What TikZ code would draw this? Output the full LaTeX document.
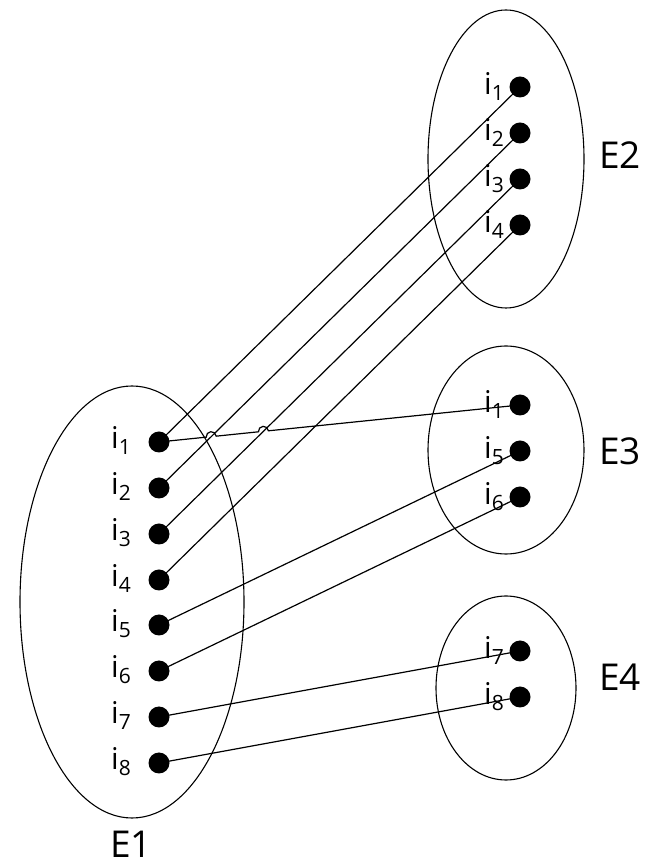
\documentclass[tikz,border=0pt]{standalone}
\usepackage{fontspec}
\setmainfont{Open Sans}
\usetikzlibrary{backgrounds,intersections,calc,shapes.geometric}
\newcommand{\itemlab}[1]{i\raisebox{-6pt}{\fontsize{21}{21}\selectfont #1}}
\begin{document}
\begin{tikzpicture}[x=1pt,y=1pt,
  dot/.style={circle,fill=black,inner sep=0pt,minimum size=21pt},
  setell/.style={draw,ellipse,line width=1.1pt,inner sep=0pt},
  lbl/.style={anchor=base east,inner sep=0pt,font=\fontsize{30}{30}\selectfont},
  setname/.style={anchor=base,font=\fontsize{37}{37}\selectfont,inner sep=0pt},
  link/.style={line width=1.2pt}]
\useasboundingbox (0,0) rectangle (669,868);

% sets
\node[setell,minimum width=224pt,minimum height=432pt] (E1) at (132,266) {};
\node[setell,minimum width=156pt,minimum height=298pt] (E2) at (506,709) {};
\node[setell,minimum width=156pt,minimum height=208pt] (E3) at (506,418) {};
\node[setell,minimum width=140pt,minimum height=184pt] (E4) at (506,180) {};

\node[setname] (n1) at (131,10) {E1};
\node[setname] (n2) at (620,699) {E2};
\node[setname] (n3) at (620,403) {E3};
\node[setname] (n4) at (620,177) {E4};

% E1 items
\foreach \k/\y in {1/426,2/380,3/334,4/288,5/243,6/197,7/151,8/105}{
  \node[dot] (a\k) at (159,\y) {};
  \node[lbl] (la\k) at (131,\y-7) {\itemlab{\k}};
}
% E2 items
\foreach \k/\y in {1/781,2/735,3/689,4/643}{
  \node[dot] (b\k) at (520,\y) {};
  \node[lbl] (lb\k) at (504,\y-8) {\itemlab{\k}};
}
% E3 items
\foreach \k/\n/\y in {1/1/463,2/5/417,3/6/371}{
  \node[dot] (c\k) at (520,\y) {};
  \node[lbl] (lc\k) at (504,\y-8) {\itemlab{\n}};
}
% E4 items
\foreach \k/\n/\y in {1/7/217,2/8/171}{
  \node[dot] (d\k) at (520,\y) {};
  \node[lbl] (ld\k) at (504,\y-8) {\itemlab{\n}};
}

\begin{scope}[on background layer]
  \draw[link] (a1.center) -- (b1.center);
  \draw[link,name path=l2] (a2.center) -- (b2.center);
  \draw[link,name path=l3] (a3.center) -- (b3.center);
  \draw[link] (a4.center) -- (b4.center);
  \path[name path=hop] (a1.center) -- (c1.center);
  \path[name intersections={of=hop and l2,by=X1}];
  \path[name intersections={of=hop and l3,by=X2}];
  \draw[link] (a1.center) -- ($(X1)!5pt!(a1.center)$)
     arc[start angle=185.7,end angle=5.7,radius=5pt]
     -- ($(X2)!5pt!(a1.center)$)
     arc[start angle=185.7,end angle=5.7,radius=5pt]
     -- (c1.center);
  \draw[link] (a5.center) -- (c2.center);
  \draw[link] (a6.center) -- (c3.center);
  \draw[link] (a7.center) -- (d1.center);
  \draw[link] (a8.center) -- (d2.center);
\end{scope}
\end{tikzpicture}
\end{document}
